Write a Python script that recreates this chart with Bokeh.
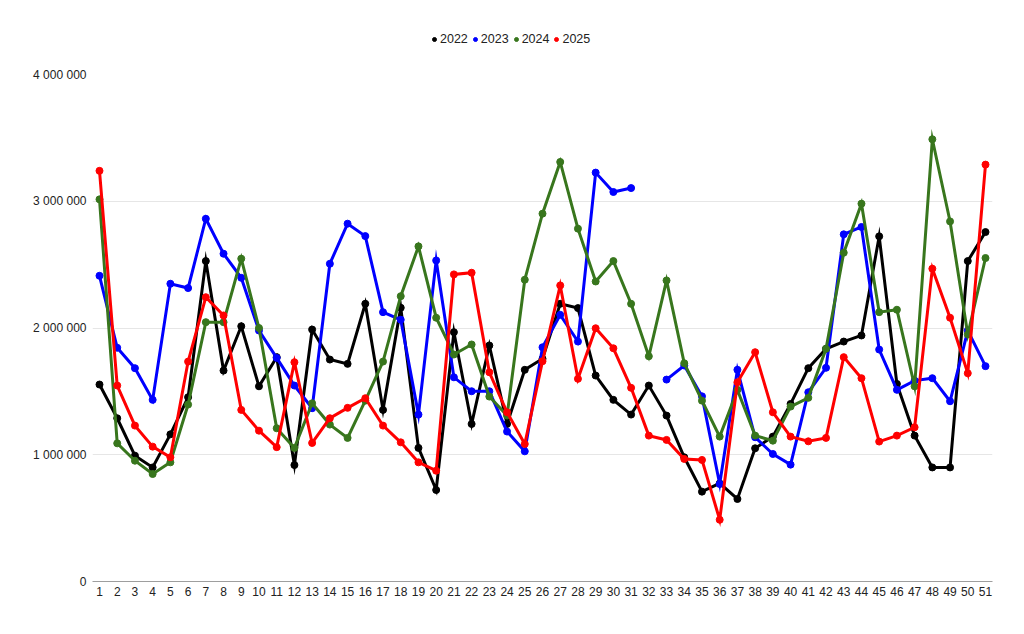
import math
from bokeh.plotting import figure
from bokeh.layouts import column
from bokeh.models import Range1d, FixedTicker, Legend, LegendItem, ColumnDataSource
from bokeh.embed import file_html
from bokeh.resources import INLINE

weeks = list(range(1, 52))

y2022 = [1554000, 1288000, 993000, 900000, 1161000, 1454000, 2528000, 1664000, 2014000, 1540000,
         1770000, 919000, 1988000, 1751000, 1717000, 2191000, 1354000, 2160000, 1054000, 722000,
         1967000, 1243000, 1862000, 1243000, 1670000, 1757000, 2191000, 2157000, 1625000, 1433000,
         1317000, 1546000, 1309000, 980000, 709000, 774000, 651000, 1051000, 1143000, 1401000,
         1683000, 1836000, 1893000, 1941000, 2723000, 1559000, 1151000, 900000, 900000, 2528000,
         2757000]

y2023 = [2412000, 1844000, 1683000, 1433000, 2349000, 2315000, 2862000, 2586000, 2396000, 1980000,
         1764000, 1546000, 1367000, 2507000, 2823000, 2725000, 2125000, 2065000, 1317000, 2533000,
         1611000, 1501000, 1501000, 1183000, 1027000, 1848000, 2104000, 1893000, 3226000, 3073000,
         3104000, float("nan"), 1593000, 1704000, 1461000, 769000, 1670000, 1138000, 1006000, 922000,
         1493000, 1686000, 2739000, 2797000, 1830000, 1512000, 1585000, 1604000, 1422000, 1980000,
         1699000]

y2024 = [3015000, 1090000, 953000, 848000, 940000, 1396000, 2046000, 2046000, 2547000, 2000000,
         1209000, 1054000, 1406000, 1238000, 1133000, 1427000, 1735000, 2251000, 2644000, 2081000,
         1791000, 1870000, 1459000, 1309000, 2381000, 2902000, 3310000, 2784000, 2367000, 2528000,
         2191000, 1777000, 2375000, 1722000, 1427000, 1143000, 1512000, 1151000, 1111000, 1380000,
         1449000, 1836000, 2594000, 2981000, 2125000, 2144000, 1540000, 3489000, 2841000, 1949000,
         2552000]

y2025 = [3240000, 1546000, 1230000, 1064000, 980000, 1735000, 2243000, 2099000, 1354000, 1190000,
         1060000, 1730000, 1093000, 1288000, 1370000, 1446000, 1230000, 1098000, 940000, 874000,
         2423000, 2436000, 1651000, 1335000, 1085000, 1738000, 2336000, 1599000, 1998000, 1840000,
         1528000, 1151000, 1117000, 967000, 959000, 487000, 1572000, 1809000, 1335000, 1143000,
         1106000, 1133000, 1770000, 1604000, 1104000, 1151000, 1217000, 2468000, 2081000, 1643000,
         3289000]

series_names = ["2022", "2023", "2024", "2025"]
series_colors = ["#000000", "#0000ff", "#38761d", "#ff0000"]
series_values = [y2022, y2023, y2024, y2025]

y_ticks = [0, 1000000, 2000000, 3000000, 4000000]
y_tick_labels = ["0", "1 000 000", "2 000 000", "3 000 000", "4 000 000"]

FONT = "Liberation Sans"
TEXT = "#222222"

# ---- main chart ----
p = figure(width=1016, height=562, output_backend="svg", toolbar_location=None,
           x_range=Range1d(0.605, 51.395), y_range=Range1d(0, 4000000),
           min_border_left=92, min_border_right=24, min_border_top=10, min_border_bottom=45)
p.outline_line_color = None
p.background_fill_color = "white"
p.border_fill_color = "white"

p.xgrid.grid_line_color = None
p.ygrid.grid_line_color = "#e6e6e6"
p.ygrid.grid_line_width = 1

p.xaxis.ticker = FixedTicker(ticks=weeks)
p.xaxis.major_tick_line_color = None
p.xaxis.minor_tick_line_color = None
p.xaxis.major_tick_out = 0
p.xaxis.major_tick_in = 0
p.xaxis.axis_line_color = "#9e9e9e"
p.xaxis.axis_line_width = 1
p.xaxis.major_label_standoff = 5
p.xaxis.major_label_text_font = FONT
p.xaxis.major_label_text_font_size = "12px"
p.xaxis.major_label_text_color = TEXT

p.yaxis.ticker = FixedTicker(ticks=y_ticks)
p.yaxis.major_label_overrides = {t: l for t, l in zip(y_ticks, y_tick_labels)}
p.yaxis.axis_line_color = None
p.yaxis.major_tick_line_color = None
p.yaxis.minor_tick_line_color = None
p.yaxis.major_tick_out = 0
p.yaxis.major_tick_in = 0
p.yaxis.major_label_standoff = 6
p.yaxis.major_label_text_font = FONT
p.yaxis.major_label_text_font_size = "12px"
p.yaxis.major_label_text_color = TEXT

for name, color, vals in zip(series_names, series_colors, series_values):
    src = ColumnDataSource(dict(x=weeks, y=vals))
    p.line("x", "y", source=src, line_color=color, line_width=3, line_join="miter")
    p.scatter("x", "y", source=src, size=7, fill_color=color, line_color=color, marker="circle")

# ---- legend strip ----
lg = figure(width=1016, height=64, output_backend="svg", toolbar_location=None,
            x_axis_type=None, y_axis_type=None,
            x_range=Range1d(0, 1016), y_range=Range1d(0, 64),
            min_border_left=0, min_border_right=0, min_border_top=0, min_border_bottom=0)
lg.grid.visible = False
lg.outline_line_color = None
lg.background_fill_color = "white"
lg.border_fill_color = "white"

items = []
for name, color in zip(series_names, series_colors):
    r = lg.scatter(x=[float("nan")], y=[float("nan")], size=7,
                   fill_color=color, line_color=color, marker="circle")
    items.append(LegendItem(label=name, renderers=[r]))

legend = Legend(items=items, orientation="horizontal", location=(337, 18),
                glyph_width=10, glyph_height=10, label_standoff=1, spacing=2,
                padding=0, margin=0, border_line_color=None, background_fill_alpha=0,
                label_text_font=FONT, label_text_font_size="12.5px", label_text_color=TEXT,
                label_height=14)
lg.add_layout(legend, "center")

layout = column(lg, p, spacing=0)
open("out.html", "w").write(file_html(layout, INLINE))
